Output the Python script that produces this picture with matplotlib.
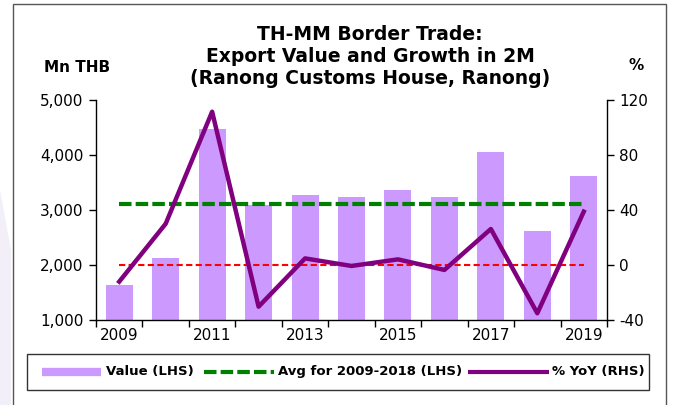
import matplotlib
matplotlib.use("Agg")
import matplotlib.pyplot as plt
from matplotlib.lines import Line2D
from matplotlib.patches import Rectangle, Polygon
import numpy as np

plt.rcParams["font.family"] = ["DejaVu Sans"]

# datos
years = [2009, 2010, 2011, 2012, 2013, 2014, 2015, 2016, 2017, 2018, 2019]
value_mn_thb = [1630, 2130, 4480, 3100, 3270, 3240, 3360, 3230, 4060, 2610, 3610]
yoy_pct = [-12.1, 30.0, 111.5, -30.3, 4.8, -0.7, 4.1, -3.6, 26.2, -35.1, 38.8]
avg_years = (2009, 2018)
left_ticks = [1000, 2000, 3000, 4000, 5000]
right_ticks = [-40, 0, 40, 80, 120]
title_lines = ["TH-MM Border Trade:", "Export Value and Growth in 2M",
               "(Ranong Customs House, Ranong)"]
legend_labels = ["Value (LHS)", "Avg for 2009-2018 (LHS)", "% YoY (RHS)"]

bar_color = "#CC99FF"
line_color = "#800080"
avg_color = "#008000"

W, H = 673, 405
fig = plt.figure(figsize=(W / 100, H / 100), dpi=100)


def fx(px):
    return px / W


def fy(py):
    return 1 - py / H


# fondo: marca lila tenue al borde izquierdo
fig.patches.append(Polygon([(0, fy(190)), (fx(11), fy(250)), (fx(11), fy(405)), (0, fy(405))],
                           closed=True, transform=fig.transFigure,
                           facecolor="#F2EFF9", edgecolor="none", zorder=0))
# marco exterior
fig.patches.append(Rectangle((fx(13), -0.01), fx(666 - 13), fy(4) + 0.01,
                             transform=fig.transFigure, fill=False,
                             edgecolor="#555555", linewidth=1.0, zorder=1))

ax = fig.add_axes([fx(96), fy(320), fx(607 - 96), 220 / H])
ax2 = ax.twinx()

x = np.arange(len(years))
ax.bar(x, value_mn_thb, width=0.58, color=bar_color, zorder=2)

# promedio 2009-2018
i0 = years.index(avg_years[0])
i1 = years.index(avg_years[1])
avg = np.mean(value_mn_thb[i0:i1 + 1])
ax.plot([x[0], x[-1]], [avg, avg], color=avg_color, linewidth=3,
        dashes=(3, 1), zorder=3)

# linea de cero del eje derecho
ax2.plot([x[0], x[-1]], [0, 0], color="#FF0000", linewidth=1.5,
         dashes=(3, 1.6), zorder=3)
ax2.plot(x, yoy_pct, color=line_color, linewidth=3.2, zorder=4)

ax.set_xlim(-0.5, len(years) - 0.5)
ax.set_ylim(1000, 5000)
ax2.set_ylim(-40, 120)
ax.set_zorder(ax2.get_zorder() - 1)
ax2.patch.set_visible(False)

ax.set_yticks(left_ticks)
ax.set_yticklabels([f"{v:,}" for v in left_ticks])
ax2.set_yticks(right_ticks)
ax2.set_yticklabels([str(v) for v in right_ticks])

# marcas entre categorias, etiquetas cada dos años
ax.set_xticks(np.arange(-0.5, len(years), 1.0))
ax.set_xticklabels([])
ax.set_xticks(x[::2], minor=True)
ax.set_xticklabels([str(y) for y in years[::2]], minor=True)
ax.tick_params(axis="x", which="major", direction="out", length=5, width=1)
ax.tick_params(axis="x", which="minor", length=0, pad=6, labelsize=11)
ax.tick_params(axis="y", direction="out", length=5, width=1, labelsize=11, pad=4)
ax2.tick_params(axis="y", direction="out", length=5, width=1, labelsize=11, pad=4)

for a in (ax, ax2):
    a.spines["top"].set_visible(False)
    for s in ("left", "right", "bottom"):
        a.spines[s].set_linewidth(1.0)
ax.spines["right"].set_visible(False)
ax2.spines["left"].set_visible(False)
ax2.spines["bottom"].set_visible(False)

# titulos
for line, py in zip(title_lines, [34, 56, 78]):
    fig.text(fx(370), fy(py), line, ha="center", va="center",
             fontsize=13.5, fontweight="bold")
fig.text(fx(77), fy(67), "Mn THB", ha="center", va="center",
         fontsize=11, fontweight="bold")
fig.text(fx(636), fy(66), "%", ha="center", va="center",
         fontsize=11, fontweight="bold")

# leyenda dibujada a mano
fig.patches.append(Rectangle((fx(27), fy(390)), fx(649 - 27), 36 / H,
                             transform=fig.transFigure, fill=True,
                             facecolor="white", edgecolor="#333333",
                             linewidth=1.0, zorder=5))
ly = fy(372)
handles = [
    Line2D([fx(42), fx(101)], [ly, ly], color=bar_color, linewidth=6,
           solid_capstyle="butt"),
    Line2D([fx(204), fx(274)], [ly, ly], color=avg_color, linewidth=3,
           dashes=(3, 1)),
    Line2D([fx(468), fx(549)], [ly, ly], color=line_color, linewidth=3,
           solid_capstyle="butt"),
]
for h in handles:
    h.set_transform(fig.transFigure)
    h.set_zorder(6)
    fig.lines.append(h)
for label, px in zip(legend_labels, [106, 278, 552]):
    fig.text(fx(px), ly, label, ha="left", va="center", fontsize=9.5,
             fontweight="bold", zorder=6)

fig.savefig("out.png", dpi=100)
